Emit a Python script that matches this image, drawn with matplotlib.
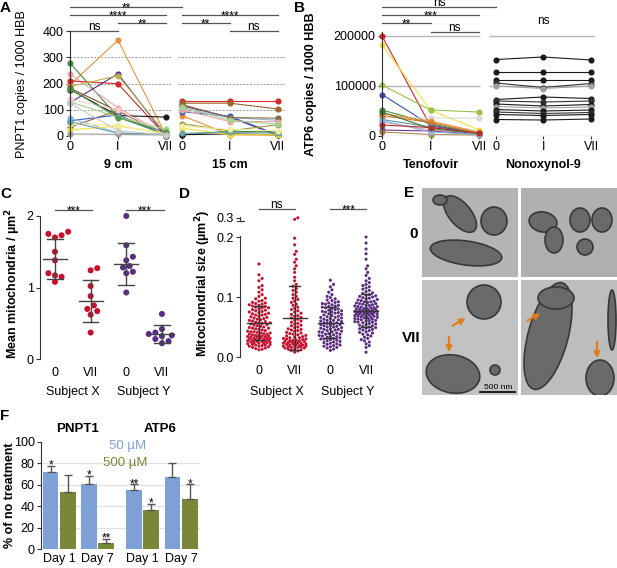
import numpy as np
import matplotlib
matplotlib.use('Agg')
import matplotlib.pyplot as plt
from matplotlib.patches import Ellipse, Rectangle, FancyArrowPatch

# ---- panel A: PNPT1 copies, 9 cm and 15 cm groups (0, I, VII)
a9_0 = [195, 278, 236, 210, 127, 188, 177, 182, 34, 58, 68, 130, 23, 45, 55, 140, 8, 178, 125]
a9_1 = [365, 72, 108, 199, 237, 230, 78, 95, 97, 80, 12, 72, 38, 42, 10, 100, 6, 70, 20]
a9_7 = [2, 5, 4, 0, 0, 8, 72, 5, 3, 6, 4, 25, 10, 5, 8, 3, 4, 15, 5]
a9_col = ['#e8923a', '#3d8b3d', '#f0a3a8', '#d62728', '#5b2a86', '#b9b24c', '#1a1a1a',
          '#7b4a2a', '#a0642d', '#3b5cb8', '#8fb3e6', '#a6d08a', '#f2e040', '#f5eea0',
          '#6aa6a6', '#f7cfd2', '#9e9e9e', '#4f9a4f', '#cccccc']
a15_0 = [133, 125, 78, 115, 93, 105, 47, 5, 5, 120, 100, 30, 110, 10, 38]
a15_1 = [133, 125, 5, 72, 75, 70, 20, 18, 8, 70, 55, 5, 60, 15, 25]
a15_7 = [133, 103, 3, 2, 5, 60, 43, 15, 5, 68, 55, 5, 45, 10, 20]
a15_col = ['#d62728', '#a0642d', '#e8923a', '#5b2a86', '#3b5cb8', '#8fb3e6', '#9a9a3a',
           '#3d8b3d', '#1a1a1a', '#8b6a3a', '#f0a3a8', '#f2e040', '#a6d08a', '#6aa6a6',
           '#f5eea0']

# ---- panel B: ATP6 copies, Tenofovir and Nonoxynol-9
b_ten_0 = [200000, 182000, 102000, 83000, 37000, 52000, 45000, 41000, 33000, 28000,
           12000, 8000, 48000, 31000, 22000]
b_ten_1 = [20000, 52000, 52000, 22000, 36000, 25000, 30000, 27000, 18000, 12000,
           10000, 3000, 15000, 8000, 17000]
b_ten_7 = [5000, 12000, 48000, 5000, 36000, 5000, 8000, 6000, 4000, 6000,
           3000, 2000, 4000, 3000, 6000]
b_ten_col = ['#d62728', '#f2e040', '#9ac24a', '#3b4fb0', '#d9d9d9', '#4f8f3f', '#e8923a',
             '#d9772b', '#5a9aa0', '#f0a3a8', '#6a3a96', '#b08a4a', '#3d7b3d', '#8fb3e6',
             '#b03030']
b_non_0 = [153000, 128000, 113000, 106000, 100000, 73000, 70000, 64000, 59000, 53000,
           48000, 43000, 33000]
b_non_1 = [158000, 128000, 113000, 97000, 95000, 78000, 68000, 60000, 56000, 50000,
           45000, 41000, 32000]
b_non_7 = [152000, 128000, 113000, 105000, 100000, 75000, 70000, 63000, 58000, 52000,
           47000, 43000, 34000]
b_non_col = ['#1a1a1a', '#1a1a1a', '#1a1a1a', '#333333', '#a0a0a0', '#1a1a1a', '#333333',
             '#1a1a1a', '#a0a0a0', '#1a1a1a', '#333333', '#1a1a1a', '#1a1a1a']

# ---- panel C: mean mitochondria per um2
c_x0 = [1.78, 1.75, 1.73, 1.70, 1.50, 1.38, 1.20, 1.15, 1.17, 1.08]
c_x7 = [1.27, 1.24, 1.02, 0.88, 0.75, 0.67, 0.70, 0.62, 0.37]
c_y0 = [2.00, 1.59, 1.43, 1.38, 1.30, 1.28, 1.22, 1.20, 0.93]
c_y7 = [0.63, 0.42, 0.37, 0.35, 0.33, 0.32, 0.28, 0.25, 0.22]
c_mean = [1.40, 0.81, 1.33, 0.35]
c_lo = [1.12, 0.52, 1.04, 0.22]
c_hi = [1.68, 1.11, 1.62, 0.47]

# ---- panel D: mitochondrial size (um2)
d_x0 = [0.155, 0.137, 0.131, 0.127, 0.119, 0.116, 0.112, 0.108, 0.104, 0.101,
        0.098, 0.097, 0.094, 0.093, 0.091, 0.090, 0.089, 0.088, 0.087, 0.086,
        0.085, 0.084, 0.083, 0.082, 0.082, 0.080, 0.079, 0.078, 0.077, 0.076,
        0.075, 0.074, 0.073, 0.072, 0.071, 0.070, 0.070, 0.068, 0.067, 0.066,
        0.065, 0.064, 0.063, 0.062, 0.061, 0.060, 0.059, 0.058, 0.057, 0.057,
        0.056, 0.055, 0.054, 0.053, 0.052, 0.051, 0.050, 0.049, 0.048, 0.048,
        0.047, 0.046, 0.045, 0.044, 0.043, 0.042, 0.042, 0.041, 0.040, 0.040,
        0.039, 0.038, 0.038, 0.037, 0.036, 0.036, 0.035, 0.035, 0.034, 0.034,
        0.033, 0.033, 0.032, 0.032, 0.031, 0.031, 0.030, 0.030, 0.029, 0.029,
        0.028, 0.028, 0.027, 0.027, 0.026, 0.026, 0.025, 0.025, 0.024, 0.024,
        0.023, 0.023, 0.022, 0.021, 0.021, 0.020, 0.020, 0.019, 0.018, 0.018,
        0.017, 0.016, 0.015, 0.014, 0.013, 0.012]
d_x7 = [0.300, 0.292, 0.198, 0.187, 0.176, 0.171, 0.163, 0.158, 0.152, 0.147,
        0.141, 0.133, 0.127, 0.121, 0.118, 0.114, 0.111, 0.108, 0.104, 0.101,
        0.098, 0.096, 0.093, 0.091, 0.088, 0.086, 0.083, 0.081, 0.079, 0.077,
        0.075, 0.073, 0.071, 0.069, 0.068, 0.066, 0.065, 0.063, 0.061, 0.060,
        0.058, 0.056, 0.055, 0.053, 0.052, 0.050, 0.049, 0.047, 0.046, 0.045,
        0.044, 0.043, 0.041, 0.040, 0.039, 0.038, 0.037, 0.036, 0.035, 0.034,
        0.033, 0.032, 0.032, 0.031, 0.030, 0.030, 0.029, 0.028, 0.028, 0.027,
        0.027, 0.026, 0.026, 0.025, 0.025, 0.024, 0.024, 0.023, 0.023, 0.022,
        0.022, 0.021, 0.021, 0.020, 0.020, 0.019, 0.019, 0.018, 0.018, 0.017,
        0.017, 0.016, 0.016, 0.015, 0.015, 0.014, 0.013, 0.012, 0.011, 0.010,
        0.008]
d_y0 = [0.128, 0.121, 0.117, 0.112, 0.108, 0.104, 0.101, 0.099, 0.097, 0.095,
        0.094, 0.092, 0.091, 0.090, 0.089, 0.088, 0.087, 0.086, 0.085, 0.084,
        0.083, 0.082, 0.081, 0.080, 0.079, 0.078, 0.077, 0.076, 0.075, 0.075,
        0.074, 0.073, 0.072, 0.071, 0.070, 0.069, 0.068, 0.067, 0.066, 0.066,
        0.065, 0.064, 0.063, 0.062, 0.061, 0.061, 0.060, 0.059, 0.058, 0.057,
        0.057, 0.056, 0.055, 0.054, 0.054, 0.053, 0.052, 0.051, 0.050, 0.050,
        0.049, 0.048, 0.047, 0.046, 0.046, 0.045, 0.044, 0.043, 0.042, 0.042,
        0.041, 0.040, 0.039, 0.038, 0.038, 0.037, 0.036, 0.035, 0.034, 0.034,
        0.033, 0.032, 0.031, 0.030, 0.030, 0.029, 0.028, 0.027, 0.026, 0.025,
        0.024, 0.023, 0.022, 0.021, 0.020, 0.019, 0.018, 0.017, 0.016, 0.015,
        0.013, 0.011]
d_y7 = [0.200, 0.190, 0.180, 0.172, 0.163, 0.152, 0.147, 0.141, 0.136, 0.131,
        0.127, 0.124, 0.121, 0.119, 0.117, 0.115, 0.113, 0.111, 0.109, 0.107,
        0.106, 0.104, 0.103, 0.102, 0.101, 0.100, 0.099, 0.098, 0.097, 0.096,
        0.095, 0.094, 0.093, 0.092, 0.092, 0.091, 0.090, 0.089, 0.089, 0.088,
        0.087, 0.086, 0.086, 0.085, 0.084, 0.084, 0.083, 0.082, 0.082, 0.081,
        0.080, 0.080, 0.079, 0.079, 0.078, 0.078, 0.077, 0.077, 0.076, 0.076,
        0.075, 0.075, 0.074, 0.074, 0.073, 0.073, 0.072, 0.072, 0.071, 0.071,
        0.070, 0.070, 0.069, 0.069, 0.068, 0.068, 0.067, 0.066, 0.066, 0.065,
        0.065, 0.064, 0.063, 0.063, 0.062, 0.061, 0.061, 0.060, 0.059, 0.058,
        0.058, 0.057, 0.056, 0.055, 0.054, 0.053, 0.052, 0.051, 0.050, 0.049,
        0.048, 0.047, 0.046, 0.045, 0.044, 0.042, 0.041, 0.040, 0.038, 0.037,
        0.035, 0.033, 0.031, 0.029, 0.027, 0.025, 0.022, 0.019, 0.016, 0.008]
d_mean = [0.056, 0.065, 0.057, 0.076]
d_lo = [0.028, 0.012, 0.031, 0.050]
d_hi = [0.085, 0.118, 0.083, 0.105]

# ---- panel F: % of no treatment
f_labels = ['Day 1', 'Day 7', 'Day 1', 'Day 7']
f_50 = [71.5, 61, 55, 67]
f_50_err = [6, 7.5, 5.5, 13]
f_500 = [53.5, 5.5, 36, 47]
f_500_err = [15.5, 4.3, 6, 13.5]
f_50_star = ['*', '*', '**', '']
f_500_star = ['', '**', '*', '*']

W, H = 617, 568
plt.rcParams['font.family'] = ['Liberation Sans', 'DejaVu Sans']
plt.rcParams['font.size'] = 8.5
plt.rcParams['axes.linewidth'] = 0.8
plt.rcParams['axes.edgecolor'] = '#333333'
plt.rcParams['xtick.color'] = '#333333'
plt.rcParams['ytick.color'] = '#333333'
plt.rcParams['xtick.labelcolor'] = 'black'
plt.rcParams['ytick.labelcolor'] = 'black'

fig = plt.figure(figsize=(W / 100, H / 100), dpi=100)

RED = '#c8102e'
PURPLE = '#5a2d82'
BAR_BLUE = '#7da0d7'
BAR_GREEN = '#78873a'


def px_axes(l, t, r, b):
    return fig.add_axes([l / W, 1 - b / H, (r - l) / W, (b - t) / H])


def ftext(x, y, s, **kw):
    fig.text(x / W, 1 - y / H, s, **kw)


def only_left(ax):
    for s in ['top', 'right', 'bottom']:
        ax.spines[s].set_visible(False)


def sig(ax, x0, x1, y, label, line=True):
    if line:
        ax.plot([x0, x1], [y, y], color='#555555', lw=0.9, clip_on=False)
    off = -3.3 if '*' in label else 0.8
    ax.annotate(label, ((x0 + x1) / 2, y), xytext=(0, off), textcoords='offset points',
                ha='center', va='baseline', fontsize=8.5, annotation_clip=False)


def swarm(ypix, d, step, maxw):
    # simple beeswarm: offsets in pixels, limited to +-maxw
    ypix = np.asarray(ypix, float)
    xs = np.zeros(len(ypix))
    done = []
    cands = [0.0]
    k = 1
    while k * step <= maxw:
        cands += [k * step, -k * step]
        k += 1
    for i in np.argsort(ypix, kind='stable'):
        near = [j for j in done if abs(ypix[j] - ypix[i]) < d]
        best, best_gap = 0.0, -1
        for c in cands:
            gap = min([np.hypot(c - xs[j], ypix[i] - ypix[j]) for j in near] or [d])
            if gap >= d:
                best = c
                break
            if gap > best_gap:
                best, best_gap = c, gap
        xs[i] = best
        done.append(i)
    return xs


# ================= A
axA = px_axes(70, 31, 285, 136)
axA.set_xlim(0, 4.48)
axA.set_ylim(0, 400)
only_left(axA)
xa9 = [0, 1, 2]
xa15 = [2.33, 3.33, 4.33]
for x0, x1 in [(0, 2.125), (2.25, 4.48)]:
    axA.hlines([100, 200, 300], x0, x1, colors='#9a9a9a', linestyles=(0, (2, 1.5)), lw=0.7, zorder=0)
    axA.hlines(0, x0, x1, colors='#9a9a9a', lw=0.9, zorder=0)
for v0, v1, v7, c in zip(a9_0, a9_1, a9_7, a9_col):
    axA.plot(xa9, [v0, v1, v7], '-o', color=c, lw=0.8, ms=3.4, clip_on=False)
for v0, v1, v7, c in zip(a15_0, a15_1, a15_7, a15_col):
    axA.plot(xa15, [v0, v1, v7], '-o', color=c, lw=0.8, ms=3.4, clip_on=False)
axA.set_yticks([0, 100, 200, 300, 400])
axA.set_xticks(xa9 + xa15)
axA.set_xticklabels(['0', 'I', 'VII', '0', 'I', 'VII'])
axA.tick_params(axis='y', length=3, width=0.8, pad=1.5, labelsize=9)
axA.tick_params(axis='x', length=2.5, width=0.8, pad=1, labelsize=9)
for lab, x in [('9 cm', 1), ('15 cm', 3.33)]:
    axA.text(x, (136 - 165) / 105, lab, transform=axA.get_xaxis_transform(),
             ha='center', va='center', fontweight='bold', fontsize=9)
sig(axA, 0, 1, 400, 'ns')
sig(axA, 1, 2, 432, '**')
sig(axA, 0, 2, 461, '****')
sig(axA, 0, 2.33, 491, '**')
sig(axA, 3.33, 4.33, 400, 'ns')
sig(axA, 2.33, 3.33, 432, '**')
sig(axA, 2.33, 4.33, 461, '****')
ftext(22, 84, 'PNPT1 copies / 1000 HBB', rotation=90, ha='center', va='center', fontsize=9)

# ================= B
axB = px_axes(382, 32, 595, 136)
axB.set_xlim(0, 4.39)
axB.set_ylim(0, 208000)
only_left(axB)
xb1 = [0, 1, 2]
xb2 = [2.35, 3.32, 4.31]
for x0, x1 in [(0, 2.03), (2.2, 4.39)]:
    axB.hlines([100000, 200000], x0, x1, colors='#b5b5b5', lw=1.0, zorder=0)
    axB.hlines(0, x0, x1, colors='#9a9a9a', lw=0.9, zorder=0)
for v0, v1, v7, c in zip(b_ten_0, b_ten_1, b_ten_7, b_ten_col):
    axB.plot(xb1, [v0, v1, v7], '-o', color=c, lw=0.8, ms=3.4, clip_on=False)
for v0, v1, v7, c in zip(b_non_0, b_non_1, b_non_7, b_non_col):
    axB.plot(xb2, [v0, v1, v7], '-o', color=c, lw=0.8, ms=3.4, clip_on=False)
axB.set_yticks([0, 100000, 200000])
axB.set_yticklabels(['0', '100000', '200000'])
axB.set_xticks(xb1 + xb2)
axB.set_xticklabels(['0', 'I', 'VII', '0', 'I', 'VII'])
axB.tick_params(axis='y', length=3, width=0.8, pad=1.5, labelsize=9)
axB.tick_params(axis='x', length=2.5, width=0.8, pad=1, labelsize=9)
for lab, x in [('Tenofovir', 1), ('Nonoxynol-9', 3.32)]:
    axB.text(x, (136 - 165) / 104, lab, transform=axB.get_xaxis_transform(),
             ha='center', va='center', fontweight='bold', fontsize=9)
sig(axB, 1, 2, 208000, 'ns')
sig(axB, 0, 1, 226000, '**')
sig(axB, 0, 2, 242000, '***')
sig(axB, 0, 2.35, 258000, 'ns')
sig(axB, 3.32, 3.32, 222000, 'ns', line=False)
ftext(311, 84, 'ATP6 copies / 1000 HBB', rotation=90, ha='center', va='center',
      fontsize=9, fontweight='bold')

# ================= C
axC = px_axes(40, 216, 178, 359)
axC.set_xlim(-0.42, 3.45)
axC.set_ylim(0, 2)
only_left(axC)
for i, (vals, col) in enumerate([(c_x0, RED), (c_x7, RED), (c_y0, PURPLE), (c_y7, PURPLE)]):
    offs = swarm(np.array(vals) * 71.5, 6.2, 3.3, 14) / 35.7
    axC.scatter(i + offs, vals, s=19, color=col, edgecolors='none', clip_on=False, zorder=2)
    axC.plot([i - 0.34, i + 0.34], [c_mean[i]] * 2, color='#444444', lw=1.0, zorder=3)
    axC.plot([i, i], [c_lo[i], c_hi[i]], color='#444444', lw=1.0, zorder=3)
    for yv in (c_lo[i], c_hi[i]):
        axC.plot([i - 0.22, i + 0.22], [yv, yv], color='#444444', lw=1.0, zorder=3)
axC.set_yticks([0, 1, 2])
axC.set_xticks([0, 1, 2, 3])
axC.set_xticklabels(['0', 'VII', '0', 'VII'])
axC.tick_params(axis='y', length=3, width=0.8, pad=1.5, labelsize=9)
axC.tick_params(axis='x', length=0, pad=5.5, labelsize=9)
for lab, x in [('Subject X', 0.5), ('Subject Y', 2.5)]:
    axC.text(x, (359 - 392) / 143, lab, transform=axC.get_xaxis_transform(),
             ha='center', va='center', fontsize=9)
sig(axC, 0, 1.05, 2.08, '***')
sig(axC, 2, 3.05, 2.08, '***')
ftext(13, 284, 'Mean mitochondria / µm$^\\mathbf{2}$', rotation=90, ha='center', va='center',
      fontsize=9, fontweight='bold')


# ================= D
def fwd(v):
    v = np.asarray(v, float)
    return np.where(v <= 0.2, v, 0.2 + (v - 0.2) * 0.32)


def inv(u):
    u = np.asarray(u, float)
    return np.where(u <= 0.2, u, 0.2 + (u - 0.2) / 0.32)


d_top = 357 - float(fwd(0.305)) * 600
axD = px_axes(240, d_top, 385, 357)
axD.set_yscale('function', functions=(fwd, inv))
axD.set_xlim(-0.53, 3.53)
axD.set_ylim(0, 0.305)
only_left(axD)
axD.spines['left'].set_bounds(0, 0.205)
for i, (vals, col) in enumerate([(d_x0, RED), (d_x7, RED), (d_y0, PURPLE), (d_y7, PURPLE)]):
    offs = swarm(fwd(vals) * 600, 3.2, 1.6, 12.5) / 35.7
    axD.scatter(i + offs, vals, s=5.0, color=col, edgecolors='none', clip_on=False, zorder=2)
    axD.plot([i - 0.34, i + 0.34], [d_mean[i]] * 2, color='#333333', lw=1.0, zorder=3)
    axD.plot([i, i], [d_lo[i], d_hi[i]], color='#333333', lw=1.0, zorder=3)
    for yv in (d_lo[i], d_hi[i]):
        axD.plot([i - 0.15, i + 0.15], [yv, yv], color='#333333', lw=1.0, zorder=3)
ytr = axD.get_yaxis_transform()
axD.plot([0, 0], [0.283, 0.305], color='#333333', lw=0.8, transform=ytr, clip_on=False)
axD.plot([-0.02, 0.03], [0.283, 0.283], color='#333333', lw=0.8, transform=ytr, clip_on=False)
axD.set_yticks([0, 0.1, 0.2, 0.3])
axD.set_yticklabels(['0.0', '0.1', '0.2', '0.3'])
axD.set_xticks([0, 1, 2, 3])
axD.set_xticklabels(['0', 'VII', '0', 'VII'])
axD.tick_params(axis='y', length=3, width=0.8, pad=1.5, labelsize=9)
axD.tick_params(axis='x', length=0, pad=5.5, labelsize=9)
for lab, x in [('Subject X', 0.5), ('Subject Y', 2.5)]:
    axD.text(x, (357 - 392) / (357 - d_top), lab, transform=axD.get_xaxis_transform(),
             ha='center', va='center', fontsize=9)
sig(axD, 0, 1, 0.346, 'ns')
sig(axD, 2, 3, 0.346, '***')
ftext(203, 283, 'Mitochondrial size (µm$^\\mathbf{2}$)', rotation=90, ha='center', va='center',
      fontsize=9, fontweight='bold')

# ================= E (micrograph placeholders)
axE = px_axes(422, 188, 617, 395)
axE.set_xlim(422, 617)
axE.set_ylim(395, 188)
axE.axis('off')
frames = [(422, 188, 96, 89, '#b4b4b4'), (521, 188, 96, 89, '#b0b0b0'),
          (422, 280, 96, 115, '#c2c2c2'), (521, 280, 96, 115, '#bdbdbd')]
mito = [
    [(460, 214, 22, 44, -40), (494, 221, 26, 28, 0), (466, 253, 72, 24, 8), (440, 200, 14, 10, 0)],
    [(543, 222, 28, 20, 10), (554, 240, 18, 26, 0), (580, 220, 20, 24, 0), (602, 220, 20, 24, 0),
     (585, 247, 16, 16, 0)],
    [(484, 302, 34, 34, 0), (453, 374, 54, 38, 10), (495, 370, 10, 10, 0)],
    [(548, 336, 40, 110, 15), (556, 298, 36, 22, 0), (600, 378, 28, 36, 0), (612, 320, 8, 60, 0)],
]
for (x, y, w, h, bg), group in zip(frames, mito):
    rect = Rectangle((x, y), w, h, facecolor=bg, edgecolor='none')
    axE.add_patch(rect)
    for cx, cy, ew, eh, ang in group:
        e = Ellipse((cx, cy), ew, eh, angle=ang, facecolor='#6a6a6a', edgecolor='#383838', lw=1.2)
        axE.add_patch(e)
        e.set_clip_path(rect)
for (x0, y0), (x1, y1) in [((450, 327), (468, 317)), ((449, 334), (449, 355)),
                           ((525, 322), (543, 312)), ((597, 339), (597, 361))]:
    axE.add_patch(FancyArrowPatch((x0, y0), (x1, y1), arrowstyle='-|>', mutation_scale=8,
                                  color='#e07b20', lw=1.6))
axE.plot([480, 515], [392, 392], color='black', lw=1.2)
axE.text(498, 389, '500 nm', ha='center', va='baseline', fontsize=6)
ftext(414, 234, '0', ha='center', va='center', fontsize=11, fontweight='bold')
ftext(411, 338, 'VII', ha='center', va='center', fontsize=11, fontweight='bold')

# ================= F
axF = px_axes(41, 442, 200, 549)
f_pos = np.array([0, 1, 2.18, 3.19])
axF.set_xlim(-0.476, 3.685)
axF.set_ylim(0, 100)
only_left(axF)
axF.hlines([20, 40, 60, 80], -0.476, 3.685, colors='#e2e2e2', lw=1.0, zorder=0)
for off, vals, errs, stars, col in [(-0.225, f_50, f_50_err, f_50_star, BAR_BLUE),
                                   (0.225, f_500, f_500_err, f_500_star, BAR_GREEN)]:
    xs = f_pos + off
    axF.bar(xs, vals, 0.41, color=col, zorder=2)
    axF.errorbar(xs, vals, yerr=[np.zeros(4), errs], fmt='none', ecolor='#555555',
                 elinewidth=1.0, capsize=3, capthick=1.0, zorder=3)
    for x, v, e, s in zip(xs, vals, errs, stars):
        if s:
            axF.annotate(s, (x, v + e), xytext=(0, -2.0), textcoords='offset points',
                         ha='center', va='baseline', fontsize=8.5, annotation_clip=False)
axF.set_yticks([0, 20, 40, 60, 80, 100])
axF.set_xticks(f_pos)
axF.set_xticklabels(f_labels)
axF.tick_params(axis='y', length=3, width=0.8, pad=1.5, labelsize=9)
axF.tick_params(axis='x', length=0, pad=3, labelsize=9)
for lab, x in [('PNPT1', 0.49), ('ATP6', 2.64)]:
    axF.text(x, (549 - 429) / 107, lab, transform=axF.get_xaxis_transform(),
             ha='center', va='center', fontweight='bold', fontsize=9.5)
axF.text(1.8, 96, '50 µM', color=BAR_BLUE, ha='center', va='center', fontsize=9.5)
axF.text(1.72, 80.5, '500 µM', color=BAR_GREEN, ha='center', va='center', fontsize=9.5)
ftext(10, 495, '% of no treatment', rotation=90, ha='center', va='center',
      fontsize=9, fontweight='bold')

# panel letters
for lab, x, y in [('A', 0, 1), ('B', 294, 1), ('C', 0, 187), ('D', 179, 187),
                  ('E', 404, 186), ('F', 0, 409)]:
    ftext(x, y, lab, ha='left', va='top', fontsize=11, fontweight='bold')

fig.savefig('out.png', dpi=100)
